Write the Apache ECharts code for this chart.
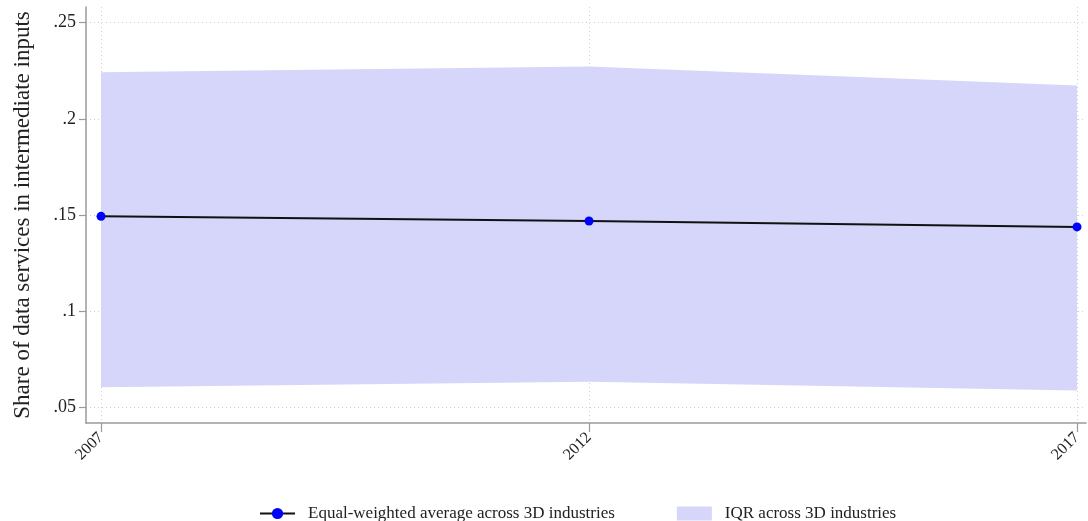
<!DOCTYPE html>
<html><head><meta charset="utf-8">
<script src="https://cdn.jsdelivr.net/npm/echarts@6/dist/echarts.min.js"></script>
<style>html,body{margin:0;padding:0;background:#fff}#c{width:1088px;height:521px}</style>
</head><body><div id="c"></div>
<script>
const years = [2007, 2012, 2017];
const avgValues = [0.1493, 0.1469, 0.1438];
const iqrLow = [0.0604, 0.0633, 0.0588];
const iqrHigh = [0.2242, 0.2272, 0.2174];
const yTicks = [0.05, 0.1, 0.15, 0.2, 0.25];
const yTickLabels = ['.05', '.1', '.15', '.2', '.25'];
const xTicks = [2007, 2012, 2017];

const font = '"Liberation Serif", "DejaVu Serif", serif';
const bandColor = '#d6d6fa';
const chart = echarts.init(document.getElementById('c'));
chart.setOption({
  animation: false,
  textStyle: {fontFamily: font},
  grid: {left: 86, right: 2, top: 7, bottom: 98},
  legend: {
    top: 500, left: 254, itemGap: 62, itemWidth: 35, itemHeight: 14,
    textStyle: {fontFamily: font, fontSize: 17, color: '#222', padding: [0, 0, 0, 8]},
    data: [{name: 'Equal-weighted average across 3D industries'}, {name: 'IQR across 3D industries', icon: 'rect', itemStyle: {color: bandColor}}]
  },
  xAxis: {
    type: 'value', min: 2006.846, max: 2017.092,
    axisLine: {onZero: false, lineStyle: {color: '#9a9a9a', width: 1.5}},
    axisTick: {customValues: xTicks, length: 9, lineStyle: {color: '#9a9a9a', width: 1.2}},
    axisLabel: {customValues: xTicks, rotate: 45, fontSize: 16, color: '#222', fontFamily: font, margin: 12,
      formatter: v => String(Math.round(v))},
    splitLine: {show: true, lineStyle: {color: '#cfcfcf', type: [1, 3]}}
  },
  yAxis: {
    type: 'value', min: 0.04184, max: 0.25816,
    name: 'Share of data services in intermediate inputs',
    nameLocation: 'middle', nameGap: 52,
    nameTextStyle: {fontSize: 23, color: '#222', fontFamily: font},
    axisLine: {show: true, lineStyle: {color: '#9a9a9a', width: 1.5}},
    axisTick: {show: true, customValues: yTicks, length: 7, lineStyle: {color: '#9a9a9a', width: 1.2}},
    axisLabel: {customValues: yTicks, fontSize: 18, color: '#222', fontFamily: font, margin: 10,
      formatter: v => { const i = yTicks.findIndex(t => Math.abs(t - v) < 1e-6); return i >= 0 ? yTickLabels[i] : ''; }},
    splitLine: {show: true, lineStyle: {color: '#cfcfcf', type: [1, 3]}}
  },
  series: [
    {name: 'IQR across 3D industries', type: 'custom', z: 1,
     itemStyle: {color: bandColor},
     data: [0],
     renderItem: (params, api) => {
       const pts = [];
       years.forEach((y, i) => pts.push(api.coord([y, iqrHigh[i]])));
       for (let i = years.length - 1; i >= 0; i--) pts.push(api.coord([years[i], iqrLow[i]]));
       return {type: 'polygon', shape: {points: pts}, style: {fill: bandColor}};
     }},
    {name: 'Equal-weighted average across 3D industries', type: 'line', symbol: 'circle', symbolSize: 9,
     itemStyle: {color: '#0000ff'}, lineStyle: {color: '#111', width: 2},
     data: years.map((y, i) => [y, avgValues[i]]), z: 5}
  ]
});
</script></body></html>
